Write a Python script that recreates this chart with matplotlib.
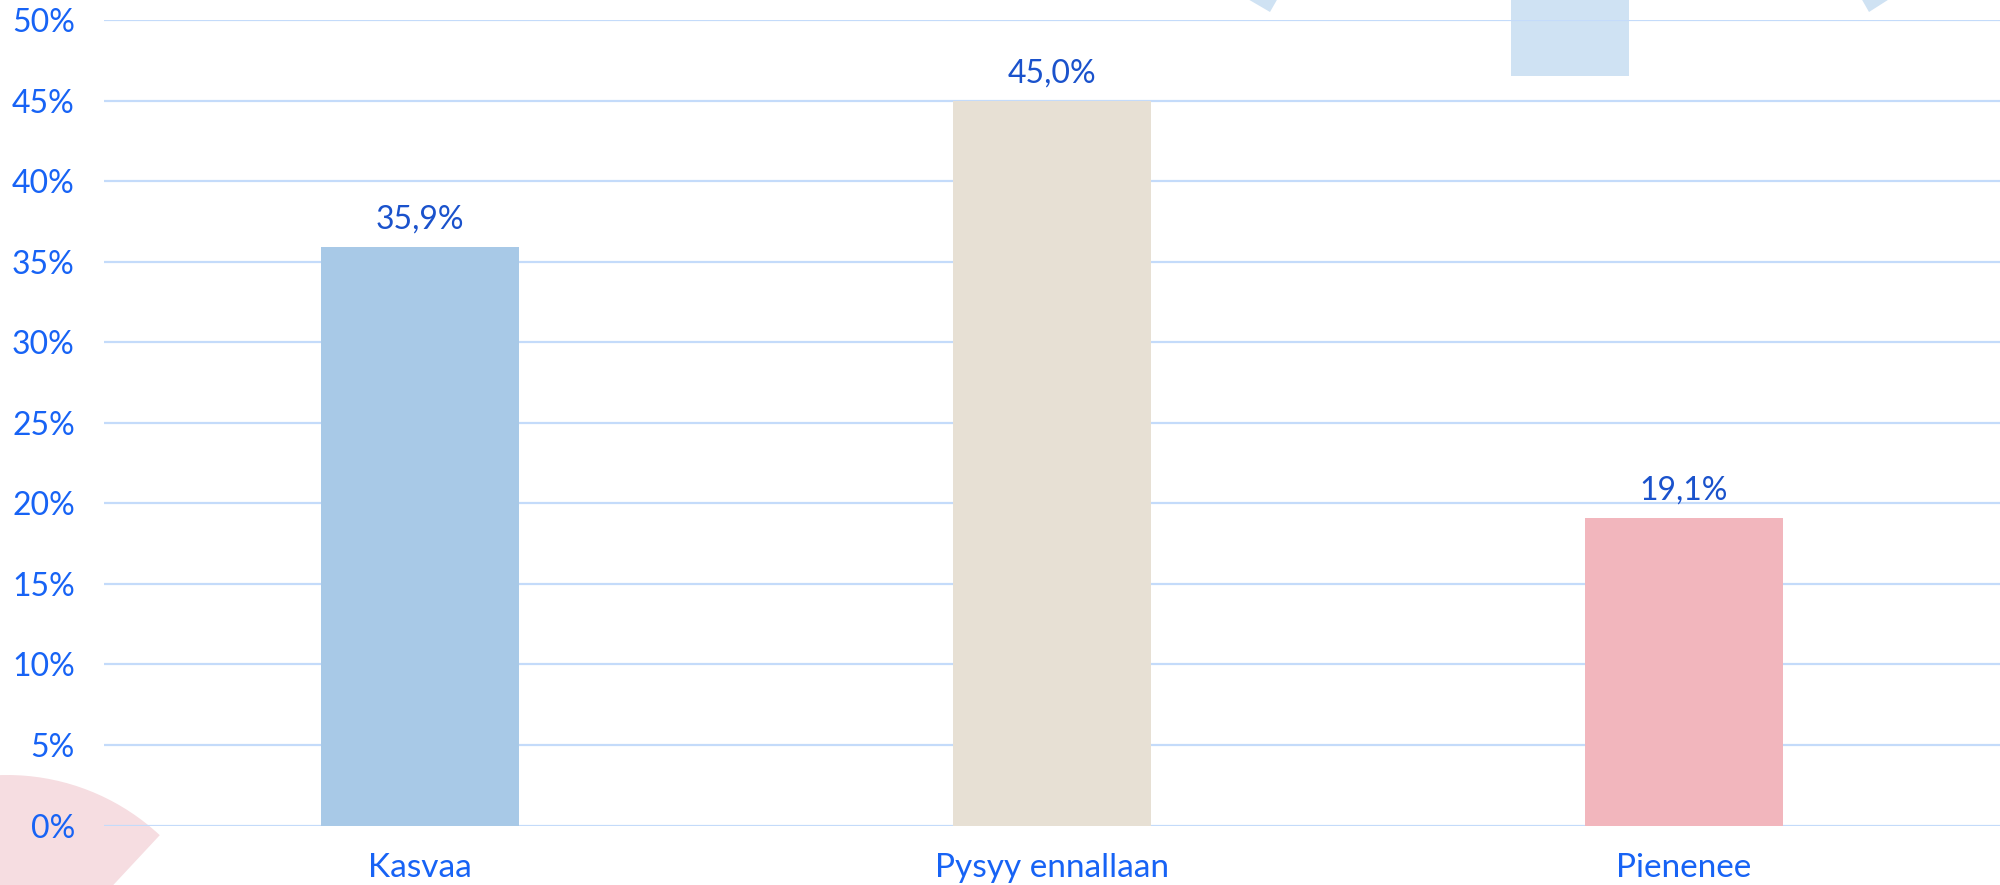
import matplotlib
matplotlib.use("Agg")
import matplotlib.pyplot as plt
from matplotlib.patches import Rectangle, Polygon, Wedge

categories = ["Kasvaa", "Pysyy ennallaan", "Pienenee"]
values = [35.9, 45.0, 19.1]
value_labels = ["35,9%", "45,0%", "19,1%"]
bar_colors = ["#a8c9e7", "#e7e0d4", "#f2b6bd"]
yticks = [0, 5, 10, 15, 20, 25, 30, 35, 40, 45, 50]
ytick_labels = [f"{t}%" for t in yticks]

plt.rcParams['font.family'] = ['Lato', 'DejaVu Sans']

W, H = 2000, 885
fig = plt.figure(figsize=(20, 8.85), dpi=100)
fig.patch.set_facecolor("white")

def fx(px):
    return px / W

def fy(py):
    return 1 - py / H

# background decorations (figure coordinates)
deco_blue = "#cfe2f3"
fig.patches.append(Rectangle((fx(1511), fy(76)), fx(1629) - fx(1511), fy(0) - fy(76) + 0.01,
                             transform=fig.transFigure, facecolor=deco_blue, edgecolor="none", zorder=0))
fig.patches.append(Polygon([(fx(1246), fy(-2)), (fx(1278), fy(-2)), (fx(1270), fy(12))],
                           closed=True, transform=fig.transFigure, facecolor=deco_blue, edgecolor="none", zorder=0))
fig.patches.append(Polygon([(fx(1861), fy(-2)), (fx(1891), fy(-2)), (fx(1869), fy(12))],
                           closed=True, transform=fig.transFigure, facecolor=deco_blue, edgecolor="none", zorder=0))

# pink wedge bottom-left, drawn in pixel space via an overlay axes
ov = fig.add_axes([0, 0, 1, 1], zorder=0)
ov.set_xlim(0, W)
ov.set_ylim(0, H)
ov.axis("off")
ov.add_patch(Wedge((7, H - 999), 224, 47, 200, facecolor="#f6dde1", edgecolor="none"))

ax = fig.add_axes([fx(104), fy(825.5), 1 - fx(104), fy(20.4) - fy(825.5)], zorder=1)
ax.patch.set_alpha(0)

x = list(range(len(categories)))
ax.bar(x, values, width=0.313, color=bar_colors, zorder=2)

ax.set_xlim(-0.5, 2.5)
ax.set_ylim(0, 50)
ax.set_yticks(yticks)
ax.set_yticklabels(ytick_labels)
ax.set_xticks(x)
ax.set_xticklabels(categories)

grid_color = "#c4dbfa"
for t in yticks:
    ax.axhline(t, color=grid_color, lw=1.6, zorder=1)

for s in ["top", "right", "left", "bottom"]:
    ax.spines[s].set_visible(False)

tick_color = "#1763f5"
ax.tick_params(axis="y", length=0, pad=21, labelsize=23, labelcolor=tick_color)
ax.tick_params(axis="x", length=0, pad=20, labelsize=24, labelcolor=tick_color)

for xi, v, lab in zip(x, values, value_labels):
    ax.annotate(lab, (xi, v), xytext=(0, 13.5), textcoords="offset points",
                ha="center", va="baseline", fontsize=23, color="#1a52cc", zorder=3)

fig.savefig("out.png", dpi=100, facecolor="white")
